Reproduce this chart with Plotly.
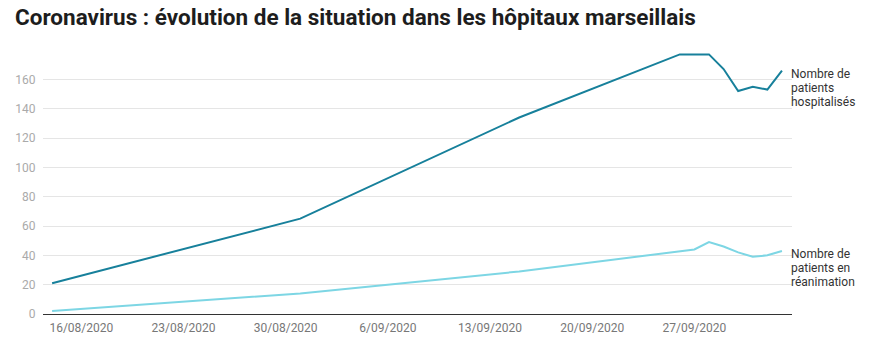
import plotly.graph_objects as go

dates = ["2020-08-14", "2020-08-31", "2020-09-15", "2020-09-26", "2020-09-27",
         "2020-09-28", "2020-09-29", "2020-09-30", "2020-10-01", "2020-10-02", "2020-10-03"]
hospitalises = [21, 65, 134, 177, 177, 177, 167, 152, 155, 153, 166]
reanimation = [2, 14, 29, 43, 44, 49, 46, 42, 39, 40, 43]

label_hosp = ["Nombre de", "patients", "hospitalisés"]
label_rea = ["Nombre de", "patients en", "réanimation"]
title_text = "Coronavirus : évolution de la situation dans les hôpitaux marseillais"
y_ticks = [0, 20, 40, 60, 80, 100, 120, 140, 160]

col_hosp = "#17809b"
col_rea = "#7dd6e4"

fig = go.Figure()
fig.add_trace(go.Scatter(x=dates, y=hospitalises, mode="lines",
                         line=dict(color=col_hosp, width=2), hoverinfo="skip"))
fig.add_trace(go.Scatter(x=dates, y=reanimation, mode="lines",
                         line=dict(color=col_rea, width=2), hoverinfo="skip"))

for lines, vals in [(label_hosp, hospitalises), (label_rea, reanimation)]:
    for i, txt in enumerate(lines):
        fig.add_annotation(x=dates[-1], y=vals[-1], text=txt, showarrow=False,
                           xanchor="left", yanchor="top", align="left",
                           xshift=7, yshift=6 - 14 * i,
                           font=dict(family="Roboto", size=12, color="#333333"))

fig.update_layout(
    width=881, height=341,
    margin=dict(l=43, r=89, t=50, b=27),
    paper_bgcolor="white", plot_bgcolor="white",
    showlegend=False,
    font=dict(family="Roboto", size=12, color="#666666"),
    title=dict(text=title_text, x=15 / 881, xanchor="left", xref="container",
               y=1 - 9 / 341, yanchor="top", yref="container",
               font=dict(family="Roboto", size=22.5, color="#1d1d1d", weight="bold")),
    xaxis=dict(
        range=["2020-08-13 09:00", "2020-10-03 16:30"],
        tick0="2020-08-16", dtick=7 * 24 * 3600 * 1000,
        tickformat="%-d/%m/%Y",
        showgrid=False, zeroline=False, automargin=False,
        showline=True, linecolor="#333333", linewidth=1,
        ticks="outside", ticklen=3, tickcolor="rgba(0,0,0,0)",
        tickfont=dict(family="Roboto", size=12, color="#777777"),
    ),
    yaxis=dict(
        range=[0, 180], tickvals=y_ticks, automargin=False,
        showgrid=True, gridcolor="#e5e5e5", gridwidth=1,
        zeroline=False, showline=False,
        ticks="outside", ticklen=4, tickcolor="rgba(0,0,0,0)",
        tickfont=dict(family="Roboto", size=12, color="#aaaaaa"),
    ),
)

fig.write_html("out.html")
